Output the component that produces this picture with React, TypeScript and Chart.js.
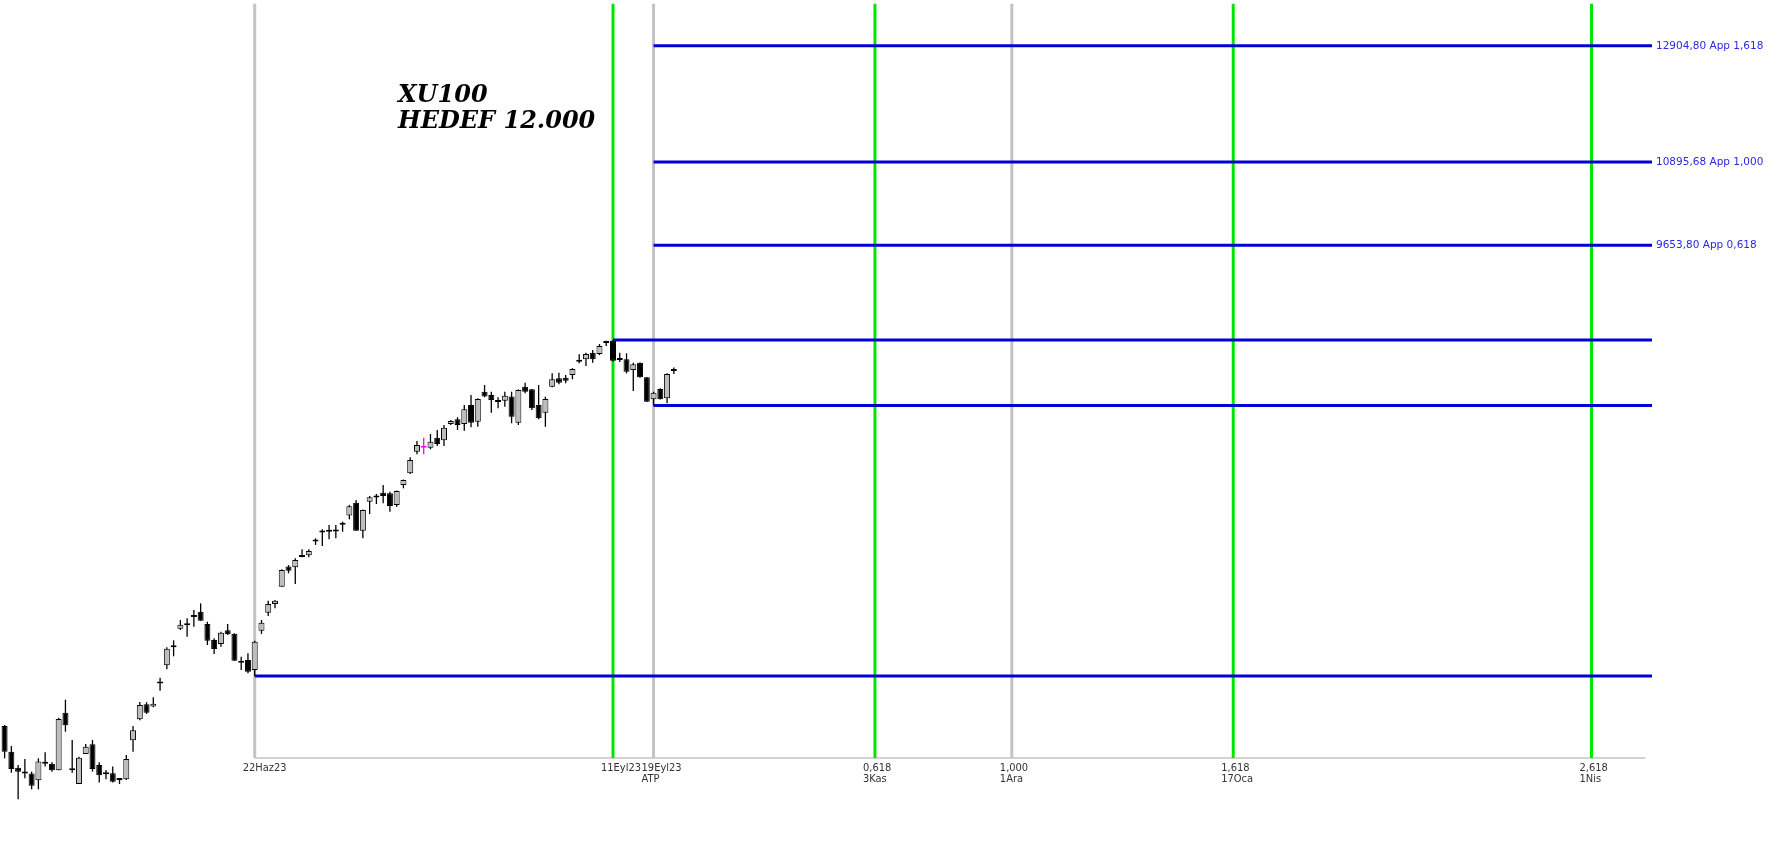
import React, { useEffect, useRef } from "react";
import { Chart, registerables } from "chart.js";

Chart.register(...registerables);

// ---- Candles (daily bars, index = trading day) ----
const openP = [
  4796, 4620, 4514, 4480, 4476, 4432, 4540, 4540, 4497, 4890,
  4500, 4408, 4605, 4670, 4532, 4471, 4477, 4434, 4438, 4698,
  4843, 4950, 4935, 5102, 5239, 5378, 5526, 5554, 5621, 5664,
  5564, 5436, 5404, 5513, 5486, 5260, 5280, 5203, 5510, 5656,
  5728, 5874, 6048, 6042, 6134, 6148, 6273, 6355, 6362, 6366,
  6441, 6514, 6638, 6373, 6647, 6688, 6735, 6729, 6616, 6811,
  6928, 7149, 7189, 7191, 7296, 7268, 7443, 7494, 7443, 7651,
  7468, 7801, 7764, 7686, 7699, 7747, 7457, 7858, 7828, 7651,
  7566, 7858, 7955, 7962, 7993, 8147, 8177, 8256, 8241, 8374,
  8402, 8185, 8177, 8051, 8137, 7966, 7715, 7832, 7726, 8040,
];
const highP = [
  4803, 4659, 4532, 4571, 4488, 4576, 4616, 4550, 4855, 4983,
  4700, 4587, 4672, 4700, 4550, 4499, 4521, 4445, 4598, 4796,
  4967, 4965, 5001, 5145, 5378, 5433, 5596, 5610, 5678, 5733,
  5582, 5449, 5502, 5564, 5489, 5305, 5331, 5430, 5596, 5755,
  5761, 6025, 6062, 6122, 6202, 6202, 6302, 6386, 6426, 6426,
  6457, 6616, 6664, 6572, 6702, 6722, 6810, 6745, 6756, 6865,
  7091, 7261, 7296, 7336, 7378, 7432, 7486, 7516, 7651, 7764,
  7726, 7877, 7801, 7738, 7801, 7801, 7828, 7904, 7832, 7877,
  7745, 8012, 8019, 7993, 8072, 8238, 8256, 8289, 8361, 8400,
  8409, 8256, 8249, 8137, 8140, 7970, 7801, 7840, 8012, 8079,
];
const lowP = [
  4576, 4481, 4311, 4445, 4374, 4374, 4521, 4488, 4497, 4757,
  4481, 4408, 4605, 4488, 4417, 4438, 4417, 4408, 4434, 4620,
  4836, 4881, 4928, 5049, 5209, 5308, 5515, 5462, 5542, 5590,
  5396, 5326, 5383, 5475, 5274, 5203, 5178, 5158, 5483, 5629,
  5692, 5874, 5989, 5897, 6131, 6131, 6242, 6232, 6293, 6303,
  6363, 6479, 6373, 6303, 6529, 6625, 6632, 6551, 6599, 6778,
  6921, 7122, 7122, 7174, 7208, 7208, 7432, 7378, 7370, 7407,
  7413, 7739, 7566, 7615, 7632, 7451, 7432, 7783, 7596, 7494,
  7413, 7851, 7885, 7897, 7943, 8130, 8098, 8137, 8228, 8338,
  8149, 8145, 8012, 7809, 7962, 7684, 7645, 7712, 7670, 8004,
];
const closeP = [
  4620, 4506, 4488, 4476, 4397, 4554, 4542, 4497, 4845, 4801,
  4497, 4580, 4654, 4506, 4464, 4473, 4423, 4436, 4571, 4766,
  4945, 4890, 4954, 5105, 5367, 5381, 5558, 5557, 5624, 5590,
  5430, 5365, 5494, 5481, 5274, 5258, 5191, 5422, 5574, 5728,
  5755, 6018, 6012, 6107, 6137, 6187, 6276, 6362, 6368, 6372,
  6428, 6604, 6373, 6567, 6690, 6691, 6702, 6606, 6752, 6860,
  7063, 7219, 7192, 7254, 7229, 7403, 7475, 7432, 7604, 7457,
  7718, 7746, 7707, 7690, 7755, 7522, 7820, 7801, 7615, 7505,
  7718, 7943, 7904, 7927, 8064, 8151, 8241, 8177, 8338, 8378,
  8161, 8170, 8031, 8118, 7966, 7688, 7790, 7715, 8004, 8045,
];
const highlightBar = 62;

// ---- Fibonacci price levels ----
const pivotIdx = [37, 90, 96];
const pivotLevels = [5158, 8409, 7644.68];
const fibLevels = [12904.8, 10895.68, 9653.8];
const fibLabels = ["12904,80 App 1,618", "10895,68 App 1,000", "9653,80 App 0,618"];
const fibStartIdx = 96;
const levelEndIdx = 243.7;

// ---- Time lines / axis ----
const timeLineIdx = [37, 90, 96, 128.75, 149, 181.75, 234.75];
const timeLineKind = ["gray", "green", "gray", "green", "gray", "green", "green"];
const timeLabelTop = ["22Haz23", "11Eyl23", "19Eyl23", "0,618", "1,000", "1,618", "2,618"];
const timeLabelBottom = ["", "", "ATP", "3Kas", "1Ara", "17Oca", "1Nis"];
const axisLevel = 4578;
const axisStartIdx = 37;
const axisEndIdx = 242.7;
const lineTopLevel = 13720;

const titleLines = ["XU100", "HEDEF 12.000"];

const BLUE = "#0000d4";
const GREEN = "#00e600";
const LGRAY = "#c3c3c3";
const UPFILL = "#bdbdbd";
const MAGENTA = "#ff00ff";

const textPlugin = {
  id: "texts",
  afterDatasetsDraw(chart: any) {
    const { ctx } = chart;
    const xs = chart.scales.x;
    const ys = chart.scales.y;
    ctx.save();
    // title
    ctx.fillStyle = "#000";
    ctx.textAlign = "left";
    ctx.textBaseline = "alphabetic";
    ctx.font = 'italic bold 24px "DejaVu Serif"';
    ctx.fillText(titleLines[0], 398, 102);
    ctx.fillText(titleLines[1], 398, 128);

    // fib labels
    ctx.font = '10.5px "DejaVu Sans"';
    ctx.fillStyle = "#2a2ae0";
    ctx.textBaseline = "middle";
    fibLevels.forEach((lv, i) => {
      ctx.fillText(fibLabels[i], xs.getPixelForValue(levelEndIdx) + 4, ys.getPixelForValue(lv) + 0.5);
    });

    // time labels
    ctx.font = '11px "DejaVu Sans Condensed", "DejaVu Sans"';
    ctx.fillStyle = "#333";
    ctx.textBaseline = "top";
    const yb = ys.getPixelForValue(axisLevel);
    timeLineIdx.forEach((t, i) => {
      const px = xs.getPixelForValue(t) - 12;
      ctx.fillText(timeLabelTop[i], px, yb + 5);
      if (timeLabelBottom[i]) ctx.fillText(timeLabelBottom[i], px, yb + 16);
    });
    ctx.restore();
  },
};

export default function App() {
  const ref = useRef<HTMLCanvasElement | null>(null);

  useEffect(() => {
    if (!ref.current) return;
    const idx = openP.map((_, i) => i);
    const isUp = (i: number) => closeP[i] >= openP[i];

    const lineSets: any[] = [];
    // vertical time lines
    timeLineIdx.forEach((t, i) => {
      lineSets.push({
        type: "line",
        data: [
          { x: t, y: lineTopLevel },
          { x: t, y: axisLevel },
        ],
        borderColor: timeLineKind[i] === "green" ? GREEN : LGRAY,
        borderWidth: 3,
        pointRadius: 0,
        fill: false,
        order: 3,
      });
    });
    // pivot horizontal lines
    pivotLevels.forEach((lv, i) => {
      lineSets.push({
        type: "line",
        data: [
          { x: pivotIdx[i], y: lv },
          { x: levelEndIdx, y: lv },
        ],
        borderColor: BLUE,
        borderWidth: 3,
        pointRadius: 0,
        fill: false,
        order: 2,
      });
    });
    fibLevels.forEach((lv) => {
      lineSets.push({
        type: "line",
        data: [
          { x: fibStartIdx, y: lv },
          { x: levelEndIdx, y: lv },
        ],
        borderColor: BLUE,
        borderWidth: 3,
        pointRadius: 0,
        fill: false,
        order: 2,
      });
    });
    // axis line
    lineSets.push({
      type: "line",
      data: [
        { x: axisStartIdx, y: axisLevel },
        { x: axisEndIdx, y: axisLevel },
      ],
      borderColor: LGRAY,
      borderWidth: 1.5,
      pointRadius: 0,
      fill: false,
      order: 4,
    });

    const chart = new Chart(ref.current, {
      type: "bar",
      data: {
        datasets: [
          {
            type: "bar",
            data: idx.map((i) => ({ x: i, y: [openP[i], closeP[i]] })),
            backgroundColor: idx.map((i) => (i === highlightBar ? MAGENTA : isUp(i) ? UPFILL : "#000")),
            borderColor: idx.map((i) => (i === highlightBar ? MAGENTA : "#000")),
            borderWidth: 1,
            borderSkipped: false,
            barThickness: 6,
            minBarLength: 2,
            grouped: false,
            inflateAmount: 0,
            order: 0,
          } as any,
          {
            type: "bar",
            data: idx.map((i) => ({ x: i, y: [lowP[i], highP[i]] })),
            backgroundColor: idx.map((i) => (i === highlightBar ? MAGENTA : "#000")),
            borderWidth: 0,
            borderSkipped: false,
            barThickness: 1.3,
            grouped: false,
            inflateAmount: 0,
            order: 1,
          } as any,
          ...lineSets,
        ],
      },
      options: {
        responsive: false,
        devicePixelRatio: 1,
        animation: false,
        layout: { padding: 0 },
        plugins: { legend: { display: false }, tooltip: { enabled: false } },
        scales: {
          x: {
            type: "linear",
            min: -0.68,
            max: 264.26,
            offset: false,
            bounds: "data",
            display: false,
          },
          y: {
            type: "logarithmic",
            min: 3981.2,
            max: 13793,
            bounds: "data",
            display: false,
            beginAtZero: false,
          },
        },
      } as any,
      plugins: [textPlugin],
    });
    return () => chart.destroy();
  }, []);

  return (
    <div style={{ position: "fixed", left: 0, top: 0, width: 1791, height: 854, background: "#fff" }}>
      <canvas ref={ref} width={1791} height={854} style={{ display: "block" }} />
    </div>
  );
}
